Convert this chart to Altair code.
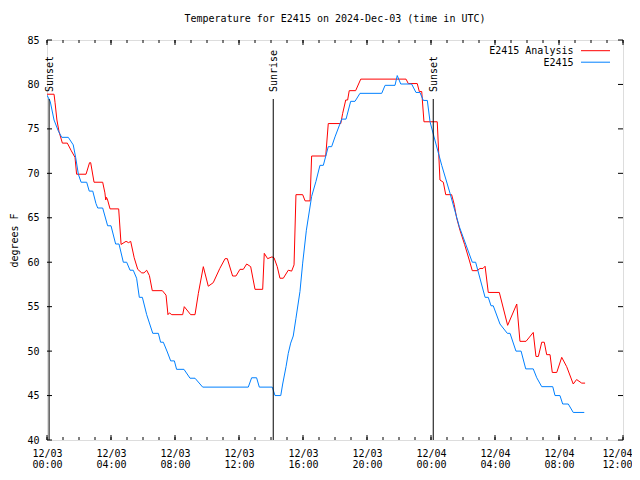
import json
import altair as alt
import pandas as pd

# ---------------- data ----------------
title_text = "Temperature for E2415 on 2024-Dec-03 (time in UTC)"
series_names = ["E2415 Analysis", "E2415"]
series_colors = ["#ff0000", "#0080ff"]

# hours since 12/03 00:00 UTC
analysis_hours = [0.00, 0.44, 0.50, 0.62, 0.75, 0.96, 1.27, 1.50, 1.75, 1.85, 2.44, 2.66, 2.73, 2.94, 3.48,
                  3.62, 3.67, 3.72, 3.79, 3.94, 4.48, 4.63, 4.94, 5.10, 5.23, 5.45, 5.67, 5.92, 6.06, 6.23,
                  6.40, 6.58, 7.21, 7.44, 7.56, 7.65, 7.80, 8.48, 8.58, 8.98, 9.25, 9.46, 9.77, 10.08, 10.39,
                  10.80, 11.13, 11.27, 11.60, 11.81, 12.06, 12.27, 12.48, 12.73, 13.00, 13.48, 13.58, 13.79,
                  14.06, 14.19, 14.39, 14.56, 14.77, 15.08, 15.29, 15.44, 15.56, 15.98, 16.13, 16.44, 16.54,
                  17.42, 17.58, 18.36, 18.48, 18.67, 18.79, 18.89, 19.29, 19.61, 22.44, 22.58, 23.14, 23.27,
                  23.42, 23.56, 24.39, 24.56, 24.77, 24.92, 25.29, 25.45, 25.60, 25.81, 26.10, 26.39, 26.58,
                  26.89, 27.06, 27.25, 27.38, 27.58, 28.27, 28.79, 29.36, 29.56, 29.94, 30.39, 30.56, 30.71,
                  30.92, 31.08, 31.23, 31.44, 31.58, 31.86, 32.17, 32.48, 32.89, 33.10, 33.42, 33.63]
analysis_temps = [78.9, 78.9, 78.0, 76.0, 74.7, 73.4, 73.4, 72.6, 71.8, 69.9, 69.9, 71.2, 71.2, 69.0, 69.0,
                  67.8, 67.0, 67.3, 67.0, 66.0, 66.0, 62.0, 62.35, 62.2, 62.35, 60.5, 59.2, 58.8, 58.8, 59.1,
                  58.5, 56.8, 56.8, 56.3, 54.1, 54.3, 54.1, 54.1, 55.0, 54.1, 54.1, 56.5, 59.5, 57.3, 57.7,
                  59.3, 60.4, 60.4, 58.45, 58.45, 59.2, 59.2, 59.8, 59.5, 56.95, 56.95, 61.0, 60.4,
                  60.6, 60.5, 59.5, 58.2, 58.2, 59.1, 59.0, 59.7, 67.6, 67.6, 66.9, 66.9, 71.95,
                  71.95, 75.6, 75.6, 76.75, 78.25, 78.25, 79.3, 79.3, 80.6, 80.6, 80.1, 80.1, 79.2,
                  79.2, 75.8, 75.8, 69.25, 69.0, 67.6, 67.6, 66.5, 65.0, 63.6, 62.0, 60.25, 59.05,
                  59.05, 59.3, 59.3, 59.55, 56.6, 56.6, 52.9, 55.3, 51.1, 51.1, 52.1, 49.4, 49.4,
                  51.0, 51.0, 49.6, 49.6, 47.6, 47.6, 49.3, 48.25, 46.3, 46.8, 46.4, 46.4]

obs_hours = [0.00, 0.20, 0.44, 0.70, 0.92, 1.33, 1.64, 1.79, 1.96, 2.13, 2.48, 2.64, 2.86, 3.06, 3.17, 3.48,
             3.79, 4.00, 4.29, 4.50, 4.77, 4.98, 5.19, 5.39, 5.60, 5.77, 5.96, 6.23, 6.61, 6.96, 7.10, 7.27,
             7.52, 7.73, 7.96, 8.10, 8.56, 8.94, 9.25, 9.73, 12.58, 12.79, 13.10, 13.27, 14.08, 14.25, 14.61,
             14.73, 14.94, 15.08, 15.23, 15.39, 15.56, 15.81, 15.98, 16.21, 16.54, 16.81, 17.06, 17.27, 17.58,
             17.79, 18.00, 18.42, 18.69, 18.98, 19.25, 19.56, 20.92, 21.13, 21.75, 21.89, 22.11, 22.79, 23.06,
             23.31, 23.52, 23.77, 23.94, 24.19, 24.67, 25.19, 25.77, 26.58, 26.79, 27.38, 27.58, 27.75, 27.89,
             28.31, 28.77, 28.94, 29.31, 29.63, 29.92, 30.39, 30.61, 30.92, 31.61, 31.75, 32.06, 32.23, 32.58,
             32.89, 33.58]
obs_temps = [78.8, 78.1, 76.0, 74.8, 74.05, 74.05, 73.2, 71.8, 69.9, 69.0, 69.0, 68.0, 68.0, 66.6, 66.1, 66.1,
             64.1, 64.1, 62.05, 62.05, 60.0, 60.0, 59.1, 59.1, 58.2, 56.05, 56.05, 54.1, 52.0, 52.0, 51.0, 51.0,
             49.9, 48.9, 48.9, 47.95, 47.95, 46.95, 46.95, 45.95, 45.95, 47.0, 47.0, 45.95, 45.95, 45.0, 45.0,
             46.3, 48.25, 49.75, 50.9, 51.7, 53.7, 56.7, 59.9, 63.6, 67.4, 69.1, 70.9, 70.9, 73.0,
             73.0, 74.1, 76.1, 76.1, 78.1, 78.1, 79.0, 79.0, 79.9, 79.9, 81.0, 80.05, 80.05, 79.1,
             79.1, 78.2, 78.2, 75.8, 74.1, 70.9, 67.75, 64.0, 60.0, 60.0, 56.05, 56.05, 55.1, 55.1,
             53.05, 52.0, 52.0, 50.0, 50.0, 48.0, 48.0, 47.0, 46.0, 46.0, 45.0, 45.0, 44.05, 44.05,
             43.1, 43.1]

event_names = ["Sunset", "Sunrise", "Sunset"]
event_hours = [0.13, 14.14, 24.14]

x_tick_values = [0, 4, 8, 12, 16, 20, 24, 28, 32, 36]
x_tick_labels = [["12/03", "00:00"], ["12/03", "04:00"], ["12/03", "08:00"], ["12/03", "12:00"],
                 ["12/03", "16:00"], ["12/03", "20:00"], ["12/04", "00:00"], ["12/04", "04:00"],
                 ["12/04", "08:00"], ["12/04", "12:00"]]
x_minor_ticks = list(range(0, 37))
y_tick_values = [40, 45, 50, 55, 60, 65, 70, 75, 80, 85]
y_title = "degrees F"

# ---------------- layout ----------------
W, H = 576, 400
FONT = "DejaVu Sans Mono"
FS = 10

xscale = alt.Scale(domain=[0, 36], nice=False, zero=False)
yscale = alt.Scale(domain=[40, 85], nice=False, zero=False)

label_expr = (json.dumps(x_tick_labels) + "[indexof(" + json.dumps(x_tick_values) + ", datum.value)]")
last_x = x_tick_values[-1]

x_axis = alt.Axis(values=x_tick_values, labelExpr=label_expr, title=None, ticks=False, domain=False,
                  grid=False, labelFont=FONT, labelFontSize=FS, labelColor="black", labelPadding=8,
                  labelLineHeight=11, labelAngle=0,
                  labelAlign={"condition": {"test": f"datum.value == {last_x}", "value": "right"},
                              "value": "center"},
                  labelOffset={"condition": {"test": f"datum.value == {last_x}", "value": 9},
                               "value": 0},
                  labelBaseline="top", labelFlush=False, labelOverlap=False, labelBound=False)
y_axis = alt.Axis(values=y_tick_values, title=y_title, ticks=False, domain=False, grid=False,
                  labelFont=FONT, labelFontSize=FS, labelColor="black", labelPadding=8,
                  labelFlush=False, labelOverlap=False,
                  titleFont=FONT, titleFontSize=FS, titleFontWeight="normal", titleColor="black",
                  titleAngle=270, titleX=-33, titleY=H / 2, titleAlign="center", titleBaseline="middle")


def X(field):
    return alt.X(field, scale=xscale, axis=x_axis, title=None)


def Y(field):
    return alt.Y(field, scale=yscale, axis=y_axis, title=y_title)


df_a = pd.DataFrame({"hour": analysis_hours, "temp": analysis_temps})
df_o = pd.DataFrame({"hour": obs_hours, "temp": obs_temps})

line_a = alt.Chart(df_a).mark_line(color=series_colors[0], strokeWidth=1, clip=True).encode(
    x=X("hour:Q"), y=Y("temp:Q"))
line_o = alt.Chart(df_o).mark_line(color=series_colors[1], strokeWidth=1, clip=True).encode(
    x=X("hour:Q"), y=Y("temp:Q"))

df_ev = pd.DataFrame({"hour": event_hours, "name": event_names})
ev_rules = alt.Chart(df_ev).mark_rule(color="black", strokeWidth=1).encode(
    x=X("hour:Q"), y=alt.value(59), y2=alt.value(H))
ev_text = alt.Chart(df_ev).mark_text(angle=270, align="left", baseline="middle", font=FONT,
                                     fontSize=FS, color="black", dy=1).encode(
    x=X("hour:Q"), y=alt.value(52), text="name:N")

# inward ticks (mirrored on all sides)
df_minor = pd.DataFrame({"hour": x_minor_ticks})
df_major = pd.DataFrame({"hour": x_tick_values})
df_y = pd.DataFrame({"temp": y_tick_values})
tick_layers = []
for df, ln in ((df_minor, 3), (df_major, 5)):
    tick_layers.append(alt.Chart(df).mark_rule(color="black", strokeWidth=1).encode(
        x=X("hour:Q"), y=alt.value(H), y2=alt.value(H - ln)))
    tick_layers.append(alt.Chart(df).mark_rule(color="black", strokeWidth=1).encode(
        x=X("hour:Q"), y=alt.value(0), y2=alt.value(ln)))
tick_layers.append(alt.Chart(df_y).mark_rule(color="black", strokeWidth=1).encode(
    y=Y("temp:Q"), x=alt.value(0), x2=alt.value(5)))
tick_layers.append(alt.Chart(df_y).mark_rule(color="black", strokeWidth=1).encode(
    y=Y("temp:Q"), x=alt.value(W), x2=alt.value(W - 5)))

# legend (gnuplot style: text then line sample, top right)
legend_layers = []
for i, (name, col) in enumerate(zip(series_names, series_colors)):
    d = pd.DataFrame({"name": [name]})
    legend_layers.append(alt.Chart(d).mark_text(align="right", baseline="middle", font=FONT,
                                                fontSize=FS, color="black").encode(
        x=alt.value(526.5), y=alt.value(11.3 + i * 11.5), text="name:N"))
    legend_layers.append(alt.Chart(d).mark_rule(color=col, strokeWidth=1).encode(
        x=alt.value(534), x2=alt.value(563), y=alt.value(10.7 + i * 11.5)))

chart = alt.layer(line_a, line_o, ev_rules, ev_text, *tick_layers, *legend_layers).properties(
    width=W, height=H,
    title=alt.TitleParams(title_text, font=FONT, fontSize=FS, fontWeight="normal", color="black",
                          anchor="middle", frame="group", offset=11),
    autosize=alt.AutoSizeParams(type="none"),
    padding={"left": 39, "top": 32, "right": 9, "bottom": 32},
).configure_view(stroke="black", strokeWidth=1).configure(background="white")

chart.save("out.html", embed_options={"renderer": "svg", "actions": False})
